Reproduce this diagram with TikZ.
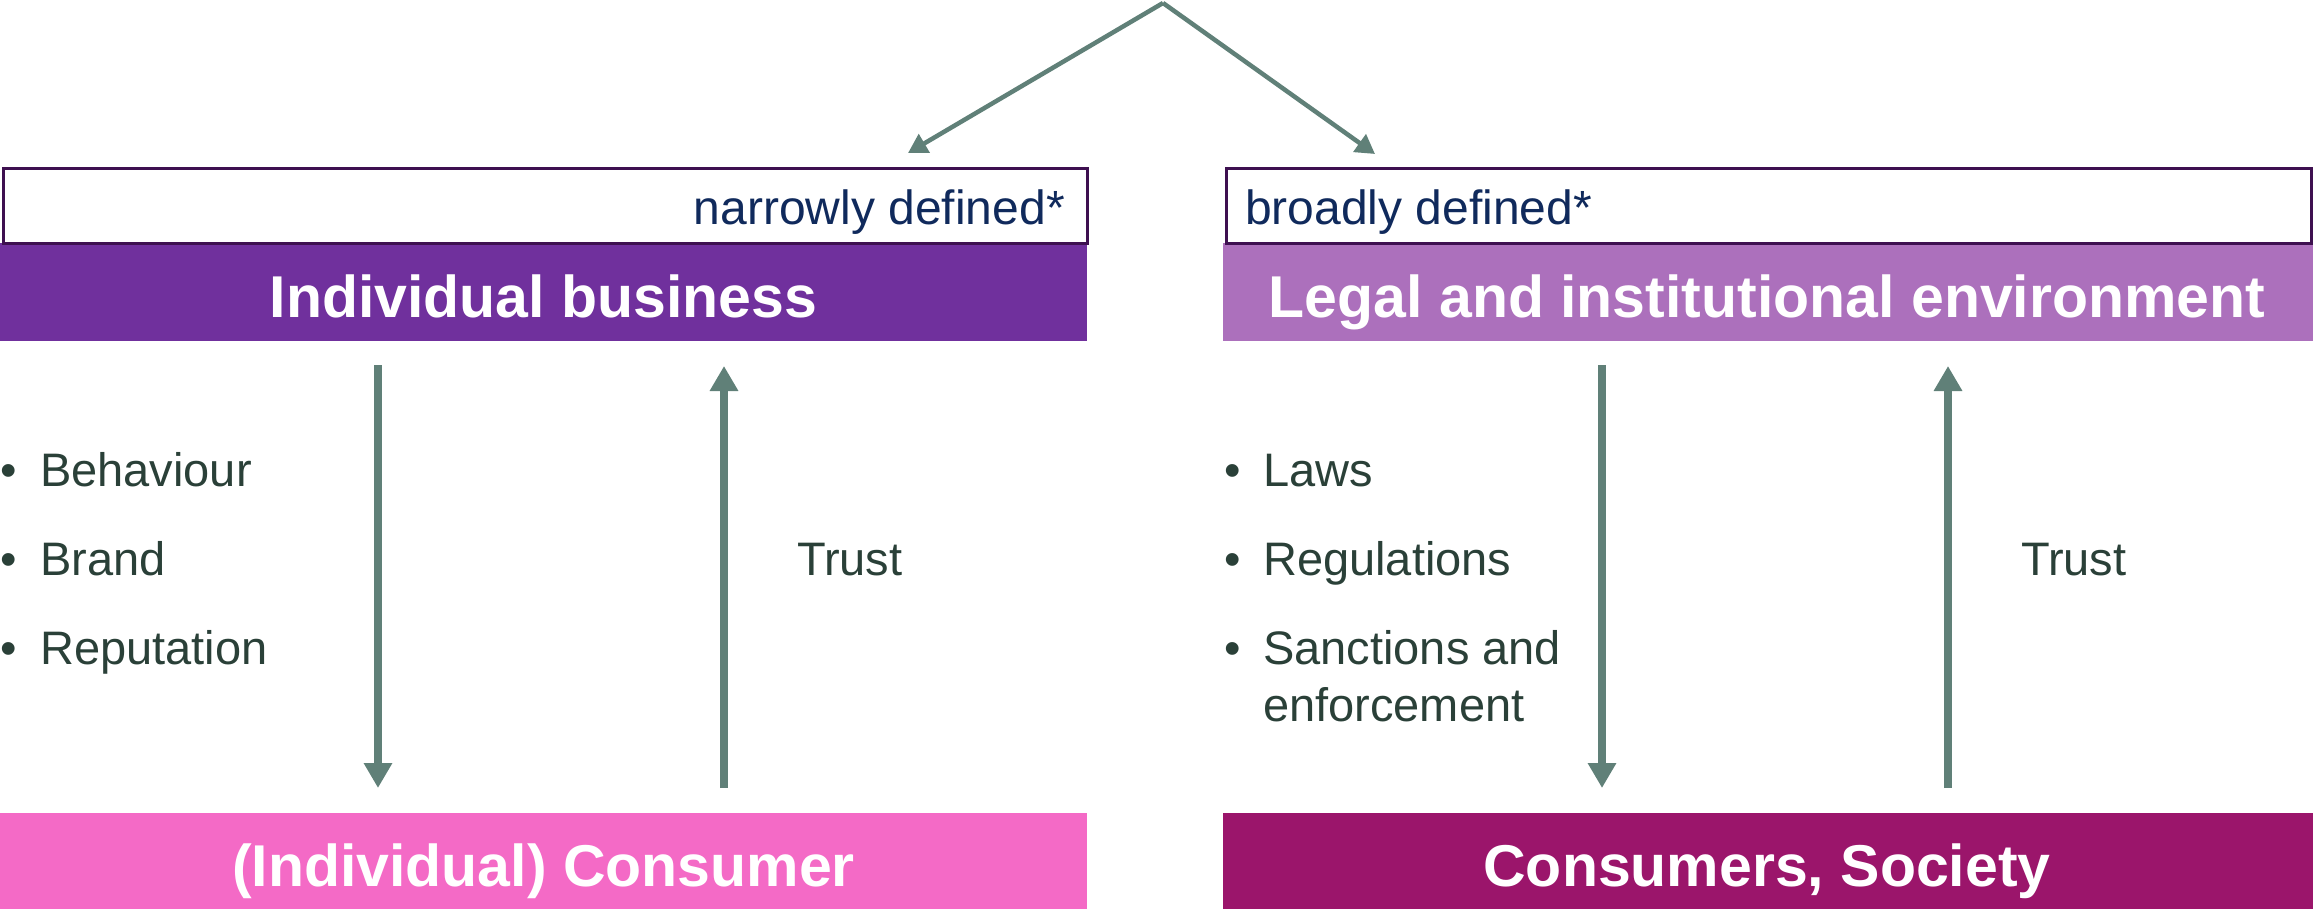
\documentclass[tikz,border=0pt]{standalone}
\usepackage{fontspec}
\setmainfont{Liberation Sans}
\usetikzlibrary{arrows.meta}

\definecolor{bizpurple}{RGB}{112,48,157}
\definecolor{envlilac}{RGB}{172,112,188}
\definecolor{conspink}{RGB}{244,106,198}
\definecolor{socmagenta}{RGB}{155,21,107}
\definecolor{flowgreen}{RGB}{96,128,120}
\definecolor{bodytext}{RGB}{42,64,56}
\definecolor{labelnavy}{RGB}{16,42,92}
\definecolor{frameplum}{RGB}{62,16,80}

\begin{document}
\begin{tikzpicture}[x=1pt,y=-1pt,
  bar/.style={rectangle, inner sep=0pt, minimum height=#1, anchor=north west},
  scopebox/.style={rectangle, draw=frameplum, line width=3pt, fill=white,
    inner sep=0pt, minimum height=75pt, anchor=north west},
  bartitle/.style={inner sep=0pt, anchor=base, text=white,
    font=\fontsize{59}{70}\selectfont\bfseries},
  scopelabel/.style={inner sep=0pt, text=labelnavy,
    font=\fontsize{48}{56}\selectfont},
  item/.style={inner sep=0pt, anchor=base west, text=bodytext,
    font=\fontsize{47}{56}\selectfont},
  flow/.style={draw=flowgreen, line width=8pt,
    -{Triangle[width=27pt 0 0,length=25pt 0 0]}},
  branch/.style={draw=flowgreen, line width=4.5pt,
    -{Triangle[width=21pt 0 0,length=19pt 0 0]}}
]
\useasboundingbox (0,0) rectangle (2313,909);

% left panel: individual business
\node[bar=98pt, minimum width=1087pt, fill=bizpurple] (lbar) at (0,243) {};
\node[scopebox, minimum width=1084pt] (lscope) at (1.5,167.5) {};
\node[bar=96pt, minimum width=1087pt, fill=conspink] (lcons) at (0,813) {};

% right panel: legal and institutional environment
\node[bar=98pt, minimum width=1090pt, fill=envlilac] (rbar) at (1223,243) {};
\node[scopebox, minimum width=1085pt] (rscope) at (1224.5,167.5) {};
\node[bar=96pt, minimum width=1090pt, fill=socmagenta] (rcons) at (1223,813) {};

% bar titles
\node[bartitle] (ltitle) at (543.5,317) {Individual business};
\node[bartitle] (rtitle) at (1767,317) {Legal and institutional environment};
\node[bartitle] (lconstitle) at (543.5,886) {(Individual) Consumer};
\node[bartitle] (rconstitle) at (1767,886) {Consumers, Society};

% scope labels
\node[scopelabel, anchor=base east] (nlabel) at (1065,225) {narrowly defined*};
\node[scopelabel, anchor=base west] (blabel) at (1245,225) {broadly defined*};

% bullet lists
\node[item] (beh) at (0,486) {\makebox[40pt][l]{•}Behaviour};
\node[item] (brand) at (0,575) {\makebox[40pt][l]{•}Brand};
\node[item] (rep) at (0,664) {\makebox[40pt][l]{•}Reputation};

\node[item] (laws) at (1224,486) {\makebox[39pt][l]{•}Laws};
\node[item] (regs) at (1224,575) {\makebox[39pt][l]{•}Regulations};
\node[item] (sanc) at (1224,664) {\makebox[39pt][l]{•}Sanctions and};
\node[item] (enf) at (1263,721.5) {enforcement};

\node[item] (ltrust) at (797,575) {Trust};
\node[item] (rtrust) at (2021,575) {Trust};

% vertical flows
\coordinate (ldtop) at (378,365);
\coordinate (ldbot) at (378,788);
\coordinate (lutop) at (724,366);
\coordinate (lubot) at (724,788);
\coordinate (rdtop) at (1602,365);
\coordinate (rdbot) at (1602,788);
\coordinate (rutop) at (1948,366);
\coordinate (rubot) at (1948,788);

\draw[flow] (ldtop) -- (ldbot);
\draw[flow] (lubot) -- (lutop);
\draw[flow] (rdtop) -- (rdbot);
\draw[flow] (rubot) -- (rutop);

% top branching
\coordinate (apex) at (1163,3);
\coordinate (ltip) at (908,153);
\coordinate (rtip) at (1375,154);
\draw[branch] (apex) -- (ltip);
\draw[branch] (apex) -- (rtip);
\end{tikzpicture}
\end{document}
